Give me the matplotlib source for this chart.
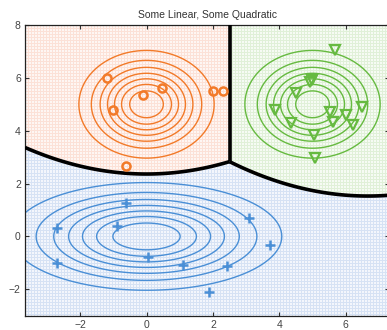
import numpy as np
import matplotlib
matplotlib.use("Agg")
import matplotlib.pyplot as plt

# ---- model (class means / covariances) ----
class_names = ["blue", "orange", "green"]
mean_blue = [0.0, 0.0]
mean_orange = [0.0, 5.0]
mean_green = [5.0, 5.0]
cov_blue = [[4.0, 0.0], [0.0, 1.0]]
cov_orange = [[1.0, 0.0], [0.0, 1.0]]
cov_green = [[1.0, 0.0], [0.0, 1.0]]
levels_blue = [0.01, 0.02, 0.03, 0.04, 0.05, 0.06, 0.07]
levels_orange = [0.02, 0.04, 0.06, 0.08, 0.10, 0.12, 0.14]
levels_green = [0.02, 0.04, 0.06, 0.08, 0.10, 0.12, 0.14]

# ---- samples ----
blue_x = [-0.62, -2.71, -0.90, -2.69, 0.03, 1.10, 2.41, 3.09, 3.71, 1.89]
blue_y = [1.26, 0.32, 0.40, -1.01, -0.76, -1.07, -1.11, 0.70, -0.34, -2.11]
orange_x = [-1.20, -1.00, -0.10, 0.48, 1.99, 2.31, -0.62]
orange_y = [6.00, 4.78, 5.35, 5.63, 5.50, 5.50, 2.66]
green_x = [5.69, 4.92, 4.97, 4.50, 3.86, 4.35, 5.04, 5.07, 5.54, 5.62, 6.00, 6.22, 6.49]
green_y = [7.05, 5.85, 5.90, 5.41, 4.78, 4.28, 3.83, 2.95, 4.72, 4.34, 4.59, 4.21, 4.90]

title = "Some Linear, Some Quadratic"
xticks = [-2, 0, 2, 4, 6]
yticks = [-2, 0, 2, 4, 6, 8]

col_blue = (0.29, 0.56, 0.84)
col_orange = (0.95, 0.48, 0.16)
col_green = (0.40, 0.73, 0.25)
tint_base = [(0.955, 0.968, 0.99), (0.998, 0.968, 0.955), (0.965, 0.985, 0.958)]
tint_line = [(0.84, 0.89, 0.96), (0.99, 0.885, 0.845), (0.88, 0.945, 0.85)]

W, H = 387, 330
fig = plt.figure(figsize=(W / 100, H / 100), dpi=100)
ax_left_px, ax_bottom_px = 25, 330 - 315.7
ax_w_px, ax_h_px = 364, 290.7
ax = fig.add_axes([ax_left_px / W, ax_bottom_px / H, ax_w_px / W, ax_h_px / H])
xmin, ymin, ymax = -3.66, -3.0, 8.0
xmax = xmin + ax_w_px / 33.2


def logpdf(X, Y, mu, cov):
    cov = np.array(cov)
    inv = np.linalg.inv(cov)
    dx, dy = X - mu[0], Y - mu[1]
    q = inv[0, 0] * dx * dx + 2 * inv[0, 1] * dx * dy + inv[1, 1] * dy * dy
    return -0.5 * q - 0.5 * np.log(np.linalg.det(cov)) - np.log(2 * np.pi)


means = [mean_blue, mean_orange, mean_green]
covs = [cov_blue, cov_orange, cov_green]

# background image (pixel-resolution, with mesh texture)
nx, ny = int(ax_w_px), int(ax_h_px)
px = xmin + (np.arange(nx) + 0.5) / nx * (xmax - xmin)
py = ymax - (np.arange(ny) + 0.5) / ny * (ymax - ymin)
PX, PY = np.meshgrid(px, py)
G = np.stack([logpdf(PX, PY, m, c) for m, c in zip(means, covs)])
lab = np.argmax(G, axis=0)
ii, jj = np.meshgrid(np.arange(nx), np.arange(ny))
line = (ii % 3 == 0) | (jj % 3 == 0)
img = np.zeros((ny, nx, 3))
for k in range(3):
    for ch in range(3):
        img[..., ch] = np.where(lab == k, np.where(line, tint_line[k][ch], tint_base[k][ch]), img[..., ch])
ax.imshow(img, extent=[xmin, xmax, ymin, ymax], origin="upper", aspect="auto",
          interpolation="nearest", zorder=0)

# Gaussian contours
gx = np.linspace(xmin, xmax, 400)
gy = np.linspace(ymin, ymax, 400)
GX, GY = np.meshgrid(gx, gy)
for m, c, lv, col in zip(means, covs, [levels_blue, levels_orange, levels_green],
                         [col_blue, col_orange, col_green]):
    P = np.exp(logpdf(GX, GY, m, c))
    ax.contour(GX, GY, P, levels=lv, colors=[col], linewidths=1.0, zorder=2)

# decision boundaries
bx = np.linspace(xmin, xmax, 800)
by = np.linspace(ymin, ymax, 800)
BX, BY = np.meshgrid(bx, by)
GB = np.stack([logpdf(BX, BY, m, c) for m, c in zip(means, covs)])
for i, j in [(0, 1), (0, 2), (1, 2)]:
    k = 3 - i - j
    d = GB[i] - GB[j]
    d = np.ma.masked_where(GB[k] > np.maximum(GB[i], GB[j]) + 0.02, d)
    ax.contour(BX, BY, d, levels=[0], colors="black", linewidths=2.6, zorder=3)

# samples
ax.plot(blue_x, blue_y, "+", color=col_blue, ms=7.5, mew=1.8, zorder=4, linestyle="none")
ax.plot(orange_x, orange_y, "o", mfc="none", mec=col_orange, ms=5.8, mew=1.8, zorder=4, linestyle="none")
ax.plot(green_x, green_y, "v", mfc="none", mec=col_green, ms=7, mew=1.6, zorder=4, linestyle="none")

ax.set_xlim(xmin, xmax)
ax.set_ylim(ymin, ymax)
ax.set_xticks(xticks)
ax.set_yticks(yticks)
lab_col = "#444444"
ax.tick_params(direction="in", length=3, width=0.8, top=True, right=True,
               labelsize=7.5, colors="#333333", labelcolor=lab_col, pad=3)
for s in ax.spines.values():
    s.set_linewidth(0.9)
    s.set_color("#222222")
ax.set_title(title, fontsize=7.5, color="#333333", pad=5, fontname="Liberation Sans")
for t in ax.get_xticklabels() + ax.get_yticklabels():
    t.set_fontname("Liberation Sans")

fig.savefig("out.png", dpi=100)
